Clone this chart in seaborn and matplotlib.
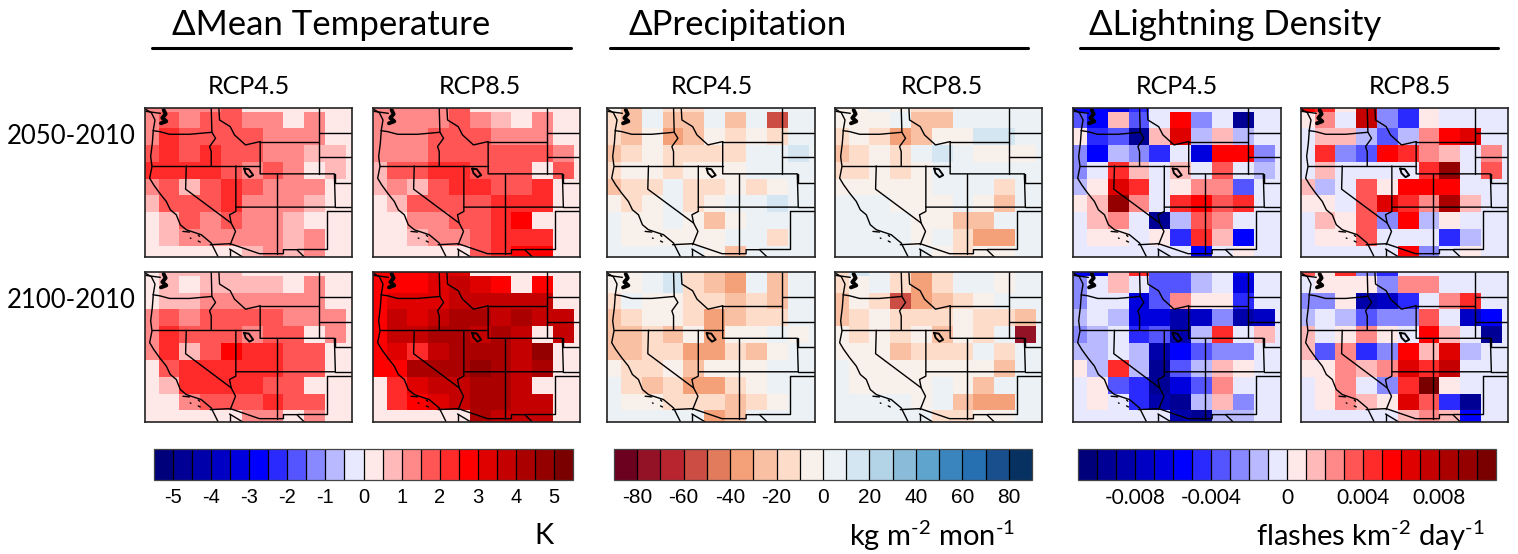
"""Western US climate change maps: temperature, precipitation, lightning density."""

import numpy as np
import matplotlib.pyplot as plt
from matplotlib.colors import BoundaryNorm, ListedColormap
from matplotlib.lines import Line2D
import seaborn as sns

sns.set_style("white")
plt.rcParams.update({
    'font.family': ['Lato', 'Noto Sans', 'DejaVu Sans'],
    'text.color': 'black',
    'xtick.color': 'black',
    'mathtext.fontset': 'custom',
    'mathtext.rm': 'Lato',
    'mathtext.default': 'regular',
})

W, H = 1518, 554

# Colour bins: +n is the n-th bin above zero, -n the n-th below
temp_2050_rcp45 = [
    [3, 3, 3, 3, 4, 1, 1, 1, 1, 1, 1],
    [3, 4, 3, 4, 4, 3, 3, 1, 3, 1, 1],
    [3, 5, 4, 4, 4, 4, 3, 3, 3, 1, 1],
    [4, 5, 4, 5, 4, 4, 3, 3, 2, 2, 1],
    [5, 5, 5, 5, 4, 3, 4, 3, 1, 2, 1],
    [3, 4, 2, 4, 5, 4, 3, 3, 3, 1, 1],
    [2, 4, 4, 4, 5, 3, 3, 3, 2, 1, 1],
    [1, 2, 4, 3, 4, 3, 3, 2, 1, 1, 1],
    [1, 2, 3, 3, 3, 3, 3, 2, 3, 1, 1],
    [1, 1, 1, 1, 1, 2, 3, 2, 3, 1, 1],
]
temp_2050_rcp85 = [
    [3, 3, 3, 3, 4, 1, 1, 1, 1, 1, 1],
    [3, 3, 3, 3, 4, 3, 2, 1, 3, 1, 1],
    [3, 3, 3, 4, 4, 4, 3, 3, 3, 1, 1],
    [3, 3, 3, 4, 4, 4, 4, 4, 4, 3, 1],
    [2, 4, 4, 5, 5, 4, 4, 4, 1, 4, 1],
    [2, 3, 2, 4, 5, 5, 4, 4, 5, 1, 1],
    [1, 2, 4, 4, 4, 4, 5, 5, 5, 1, 1],
    [1, 1, 3, 3, 4, 4, 5, 6, 1, 1, 1],
    [1, 1, 2, 3, 3, 4, 5, 5, 5, 1, 1],
    [1, 1, 1, 1, 1, 4, 5, 6, 6, 1, 1],
]
temp_2100_rcp45 = [
    [1, 2, 2, 2, 2, 1, 1, 1, 1, 1, 1],
    [1, 2, 1, 2, 2, 2, 2, 1, 3, 1, 1],
    [1, 2, 2, 3, 3, 3, 3, 3, 3, 1, 1],
    [3, 4, 3, 4, 4, 4, 4, 3, 3, 3, 1],
    [3, 5, 4, 4, 4, 3, 4, 4, 1, 3, 1],
    [3, 5, 2, 4, 6, 5, 5, 4, 4, 1, 1],
    [1, 4, 5, 5, 5, 5, 5, 4, 4, 1, 1],
    [1, 2, 5, 5, 5, 5, 4, 4, 1, 1, 1],
    [1, 1, 3, 4, 4, 4, 5, 4, 4, 1, 1],
    [1, 1, 1, 1, 1, 3, 3, 1, 3, 1, 1],
]
temp_2100_rcp85 = [
    [6, 6, 6, 7, 7, 1, 1, 1, 1, 1, 1],
    [6, 6, 6, 7, 8, 7, 6, 1, 6, 1, 1],
    [6, 7, 7, 7, 8, 8, 8, 8, 8, 1, 1],
    [6, 8, 7, 8, 9, 9, 8, 9, 8, 8, 1],
    [6, 8, 8, 9, 9, 8, 9, 8, 1, 8, 1],
    [6, 7, 5, 8, 9, 9, 9, 8, 10, 1, 1],
    [6, 6, 9, 9, 9, 10, 9, 8, 9, 1, 1],
    [1, 5, 7, 8, 8, 9, 9, 8, 1, 1, 1],
    [1, 5, 6, 7, 8, 9, 9, 8, 8, 1, 1],
    [1, 1, 1, 1, 1, 9, 8, 8, 8, 1, 1],
]

precip_2050_rcp45 = [
    [-1, -3, 1, -2, -2, 1, 1, 1, 1, 1, 1],
    [-2, -3, 1, -3, -3, 1, -3, 1, -6, 1, 1],
    [-2, -3, -1, -4, -3, -1, -2, -1, -2, 1, 1],
    [-3, -2, -1, -2, -2, -2, -2, 1, 1, 2, 1],
    [-2, -1, -1, -2, -1, -1, -1, 1, 1, 1, 1],
    [-3, -2, -2, 1, -2, -2, -1, -2, -1, 1, 1],
    [-1, -2, -1, 1, -2, -1, 1, 1, 2, 1, 1],
    [1, -1, -1, 1, -1, -3, -1, 1, 1, 1, 1],
    [1, -1, -1, -1, -1, -1, 1, 1, -2, 1, 1],
    [1, 1, 1, 1, 1, -1, -3, 1, 1, 1, 1],
]
precip_2050_rcp85 = [
    [-1, -1, 1, -1, -2, -2, 1, 1, 1, 1, 1],
    [-1, -1, -1, 1, -3, -3, 1, 1, 1, 1, 1],
    [-2, -1, -2, -4, -3, -1, -1, 2, 2, 1, 1],
    [-3, -2, -1, -2, 1, 2, 1, -1, -1, -1, 1],
    [-2, -2, -1, -2, -1, 1, 1, 1, 1, 1, 1],
    [-1, -1, -1, -1, -1, 1, 1, 1, -2, 1, 1],
    [1, 1, 1, -1, -1, -1, 1, -1, -3, 1, 1],
    [1, 1, 1, 1, -1, -1, -3, -3, 1, 1, 1],
    [1, 1, 1, 1, -1, 1, -2, -4, -4, 1, 1],
    [1, 1, 1, 1, 1, -1, -2, -1, -1, 1, 1],
]
precip_2100_rcp45 = [
    [-1, -1, 1, 2, -2, -3, -4, 1, -3, 1, 1],
    [-1, -1, 1, 2, -2, -3, -4, 1, -3, 1, 1],
    [-2, 1, -1, -1, -2, -2, -3, -2, -3, 1, 1],
    [-3, -2, -1, -1, -2, -4, -3, -2, -2, 1, 1],
    [-3, -3, -2, -3, -1, -4, -1, -1, 1, -1, 1],
    [-3, -3, -2, -2, -4, -4, -2, -3, -1, 1, 1],
    [-1, -2, -2, -1, -3, -1, -1, -1, 1, 1, 1],
    [1, -2, -3, -2, -4, -4, -2, -1, 1, 1, 1],
    [1, -1, -1, -2, -2, -2, -3, -2, -1, 1, 1],
    [1, 1, 1, 1, 1, -4, -3, 1, 1, 1, 1],
]
precip_2100_rcp85 = [
    [-2, 2, 1, -2, -4, -2, 1, 1, -1, 1, 1],
    [-2, -1, 1, -2, -4, -2, 1, 1, -1, 1, 1],
    [-3, -1, -2, -6, -4, -3, -2, -1, 1, 1, 1],
    [-3, -2, -1, -2, -2, -2, -1, -2, -2, -3, 1],
    [-1, -2, -1, -2, -1, -3, -1, -2, 1, -8, 1],
    [-1, -1, -1, -3, -2, -2, -2, 1, -2, 1, 1],
    [1, -1, -1, -1, -1, -1, -1, -1, -3, 1, 1],
    [1, -1, -1, -1, -1, 1, -1, -3, 1, 1, 1],
    [1, 1, 1, 1, -1, 1, -3, -4, -4, 1, 1],
    [1, 1, 1, 1, 1, -2, -2, -1, -1, 1, 1],
]

light_2050_rcp45 = [
    [-6, -6, -7, -5, -1, -1, -1, -1, -1, -1, -1],
    [-4, -6, 2, -4, -1, 6, -3, -1, -10, -1, -1],
    [1, -5, -4, -10, 2, 7, -2, 2, -2, -1, -1],
    [-3, -6, -2, -3, -5, -1, -7, 6, 6, -3, -1],
    [-3, -1, 5, 2, -1, 2, -1, 4, -1, -2, -1],
    [-2, 1, 7, 5, -1, 1, 3, 3, -4, -1, -1],
    [1, 2, 10, 3, -1, 5, 6, 4, 5, -1, -1],
    [-1, 2, 3, -1, -10, -2, 4, 3, -1, -1, -1],
    [-1, 1, 1, -1, 1, -5, 5, 2, -6, -1, -1],
    [-1, -1, -1, -1, -1, -1, -6, -1, 1, -1, -1],
]
light_2050_rcp85 = [
    [6, 5, 1, 8, -3, -5, 1, -1, -1, -1, -1],
    [1, 3, -1, 8, -3, -5, 1, -1, -1, -1, -1],
    [-1, 2, 2, -2, -4, -2, 3, 6, 7, -1, -1],
    [-1, 5, -3, -4, 6, 5, 3, 2, -1, 3, -1],
    [-1, 2, -1, -1, -1, -1, 5, 10, -1, 4, -1],
    [2, -2, -1, 4, 1, 6, 6, 6, -1, -1, -1],
    [1, 1, -1, 4, 7, 5, 3, 9, 2, -1, -1],
    [-1, 2, 1, 4, -3, 6, -2, 1, -1, -1, -1],
    [-1, 1, 1, 4, -1, -1, -1, -5, -2, -1, -1],
    [-1, -1, -1, -1, -1, 6, -3, -1, 1, -1, -1],
]
light_2100_rcp45 = [
    [-6, -7, 2, 5, -4, -4, -2, -1, -6, -1, -1],
    [-3, -1, 2, -1, -4, -4, -2, -1, -7, -1, -1],
    [-3, -1, -1, -7, -4, 3, 1, 1, -5, -1, -1],
    [-2, -1, -2, -7, -7, -9, -8, -3, -9, -8, -1],
    [-3, -2, -1, -5, -4, -9, -2, 5, -1, 2, -1],
    [-2, -2, -1, -2, -9, -6, -4, -3, -3, -1, -1],
    [1, -2, 5, -2, -10, -4, -2, 2, 1, -1, -1],
    [-1, 1, -4, -5, -10, -7, -4, 3, -1, -1, -1],
    [-1, 1, -1, -5, -9, -10, -2, 2, -3, -1, -1],
    [-1, -1, -1, -1, -1, -9, -10, -2, -2, -1, -1],
]
light_2100_rcp85 = [
    [4, 1, 5, -3, -5, -1, -1, -1, -1, -1, -1],
    [-1, 1, 1, 1, -3, 3, 3, -1, -1, -1, -1],
    [-3, -3, 1, -9, -8, -5, -1, 3, 5, -1, -1],
    [-2, -1, -2, -4, -3, -3, 4, -1, -8, -6, -1],
    [2, -1, 1, 3, 1, -1, 6, 2, -1, -10, -1],
    [2, -4, 3, -5, -3, 6, 2, 7, -2, -1, -1],
    [1, 1, 3, 2, 3, 7, 5, 8, -1, -1, -1],
    [-1, 1, 3, -1, -3, 5, 11, 1, -1, -1, -1],
    [-1, 1, 3, 2, 1, 7, 4, -5, -10, -1, -1],
    [-1, -1, -1, -1, -1, 2, 3, 2, -6, -1, -1],
]

bwr_colors = ['#00007a', '#000094', '#0000ab', '#0000c4', '#0000df', '#0000ff',
              '#2a2aff', '#5555ff', '#8888ff', '#b9b9ff', '#e8e8ff',
              '#ffe8e8', '#ffb9b9', '#ff8888', '#ff5555', '#ff2a2a',
              '#ff0000', '#df0000', '#c40000', '#ab0000', '#940000', '#7a0000']
rdbu_colors = ['#6b001f', '#941226', '#b9252f', '#cb4d43', '#e27b5c', '#f4a078',
               '#f9c0a4', '#fdddca', '#f8f0ea', '#ebf1f5', '#d3e6f1', '#b3d4e7',
               '#8abcd9', '#5fa4cd', '#3a85bd', '#266fb0', '#1a4f8d', '#063161']

temp_ticks = [-5, -4, -3, -2, -1, 0, 1, 2, 3, 4, 5]
precip_ticks = [-80, -60, -40, -20, 0, 20, 40, 60, 80]
light_ticks = [-0.008, -0.004, 0, 0.004, 0.008]
light_tick_labels = ['-0.008', '-0.004', '0', '0.004', '0.008']

col_titles = ['RCP4.5', 'RCP8.5']
row_titles = ['2050-2010', '2100-2010']

# State lines and coast, traced in pixels of a 3x crop of the first map
coast = [(18, 28), (35, 38), (46, 60), (41, 90), (38, 130), (33, 170), (37, 200), (30, 235),
         (42, 255), (60, 280), (80, 305), (92, 330), (110, 345), (122, 375), (140, 390),
         (185, 405), (215, 430), (235, 470)]
borders = [
    [(40, 92), (60, 95), (90, 103), (150, 103), (217, 97)],
    [(215, 24), (217, 97), (228, 115), (210, 140), (215, 155), (215, 198)],
    [(36, 198), (362, 198)],
    [(238, 24), (240, 60), (272, 80), (285, 105), (318, 135), (362, 125)],
    [(362, 125), (362, 222), (585, 222), (588, 322), (289, 322)],
    [(362, 125), (538, 125)],
    [(538, 24), (538, 222)],
    [(412, 222), (412, 462)],
    [(289, 198), (289, 335), (270, 345), (275, 370), (288, 395), (272, 435)],
    [(140, 198), (138, 268), (275, 370)],
    [(212, 435), (272, 432), (360, 462), (432, 462), (432, 450), (472, 450), (495, 472)],
    [(562, 335), (562, 447), (472, 447)],
    [(562, 335), (638, 335)],
    [(588, 322), (638, 322)],
    [(538, 172), (638, 172)],
    [(588, 222), (588, 248), (638, 248)],
    [(538, 100), (638, 100)],
    [(270, 448), (270, 472)],
    [(270, 448), (310, 472)],
    [(18, 34), (62, 40)],
]
puget = [(72, 30), (78, 42), (68, 54), (80, 64), (64, 70)]
salt_lake = [(314, 206), (328, 208), (341, 226), (330, 232), (318, 220), (314, 206)]
islands = [[(130, 395), (150, 397)], [(152, 415), (154, 416)], [(176, 406), (180, 410)],
           [(176, 424), (182, 427)]]


def bins_to_values(bins, step):
    b = np.array(bins, dtype=float)
    return np.sign(b) * (np.abs(b) - 0.5) * step


def px_rect(left, top, right, bottom):
    return [left / W, 1 - bottom / H, (right - left) / W, (bottom - top) / H]


def to_grid(path):
    xs = [0.344 + (p[0] - 16) / 62.5 for p in path]
    ys = [0.78 + (p[1] - 24) / 50.3 for p in path]
    return xs, ys


def fig_text(x, y, s, **kw):
    kw.setdefault('ha', 'center')
    kw.setdefault('va', 'center')
    fig.text(x / W, 1 - y / H, s, **kw)


def draw_map(ax):
    for path in [coast] + borders:
        ax.plot(*to_grid(path), color='black', lw=1.0, solid_joinstyle='round')
    ax.plot(*to_grid(puget), color='black', lw=2.8)
    ax.plot(*to_grid(salt_lake), color='black', lw=1.4)
    for path in islands:
        ax.plot(*to_grid(path), color='black', lw=1.0)
    ax.set_xlim(0.344, 10.296)
    ax.set_ylim(9.686, 0.78)
    for side in ax.spines.values():
        side.set_visible(True)
        side.set_color('#222222')
        side.set_linewidth(1.2)


groups = [
    dict(title='ΔMean Temperature', title_x=331, rule=(152, 571),
         panels=[[temp_2050_rcp45, temp_2050_rcp85], [temp_2100_rcp45, temp_2100_rcp85]],
         xs=[(145, 352), (373, 580)], centers=[249, 480],
         colors=bwr_colors, step=0.5, ticks=temp_ticks, labels=[str(t) for t in temp_ticks],
         cbar=(154, 573), unit='K', unit_x=544, tick_font='Liberation Sans', tick_size=14.5),
    dict(title='ΔPrecipitation', title_x=738, rule=(610, 1028),
         panels=[[precip_2050_rcp45, precip_2050_rcp85], [precip_2100_rcp45, precip_2100_rcp85]],
         xs=[(607, 815), (835, 1042)], centers=[712, 942],
         colors=rdbu_colors, step=10, ticks=precip_ticks, labels=[str(t) for t in precip_ticks],
         cbar=(614, 1032), unit=r'kg m$^{\text{-}2}$ mon$^{\text{-}1}$', unit_x=932,
         tick_font='Liberation Sans', tick_size=15),
    dict(title='ΔLightning Density', title_x=1235, rule=(1080, 1498),
         panels=[[light_2050_rcp45, light_2050_rcp85], [light_2100_rcp45, light_2100_rcp85]],
         xs=[(1073, 1281), (1301, 1508)], centers=[1177, 1410],
         colors=bwr_colors, step=0.001, ticks=light_ticks, labels=light_tick_labels,
         cbar=(1078, 1496), unit=r'flashes km$^{\text{-}2}$ day$^{\text{-}1}$', unit_x=1370,
         tick_font='Lato', tick_size=15),
]
row_spans = [(108, 257), (272, 422)]

fig = plt.figure(figsize=(W / 100, H / 100), dpi=100)

for g in groups:
    n = len(g['colors'])
    edges = (np.arange(n + 1) - n / 2) * g['step']
    norm = BoundaryNorm(edges, n)
    cmap = ListedColormap(g['colors'])
    cax = fig.add_axes(px_rect(g['cbar'][0], 449, g['cbar'][1], 480))
    for r, (top, bottom) in enumerate(row_spans):
        for c, (left, right) in enumerate(g['xs']):
            ax = fig.add_axes(px_rect(left, top, right, bottom))
            first = r == 0 and c == 0
            sns.heatmap(bins_to_values(g['panels'][r][c], g['step']), ax=ax, cmap=cmap, norm=norm,
                        xticklabels=False, yticklabels=False, cbar=first,
                        cbar_ax=cax if first else None,
                        cbar_kws=dict(orientation='horizontal', ticks=g['ticks'], drawedges=True)
                        if first else None)
            if first:
                cb = ax.collections[0].colorbar
                cb.set_ticks(g['ticks'], labels=g['labels'])
                cb.ax.minorticks_off()
                cb.ax.tick_params(which='both', length=0, pad=6, labelsize=g['tick_size'],
                                  labelfontfamily=g['tick_font'])
                cb.dividers.set_color('black')
                cb.dividers.set_linewidth(0.9)
                cb.outline.set_linewidth(0.9)
                cb.outline.set_edgecolor('#444444')
            draw_map(ax)

    fig_text(g['title_x'], 25, g['title'], fontsize=25)
    fig.add_artist(Line2D([g['rule'][0] / W, g['rule'][1] / W], [1 - 48 / H, 1 - 48 / H],
                          color='black', lw=2.2))
    for x, s in zip(g['centers'], col_titles):
        fig_text(x, 86, s, fontsize=18)
    fig_text(g['unit_x'], 536, g['unit'], fontsize=21)

fig_text(71, 137, row_titles[0], fontsize=18.5)
fig_text(71, 301, row_titles[1], fontsize=18.5)

fig.savefig('out.png', dpi=100)
plt.close(fig)
